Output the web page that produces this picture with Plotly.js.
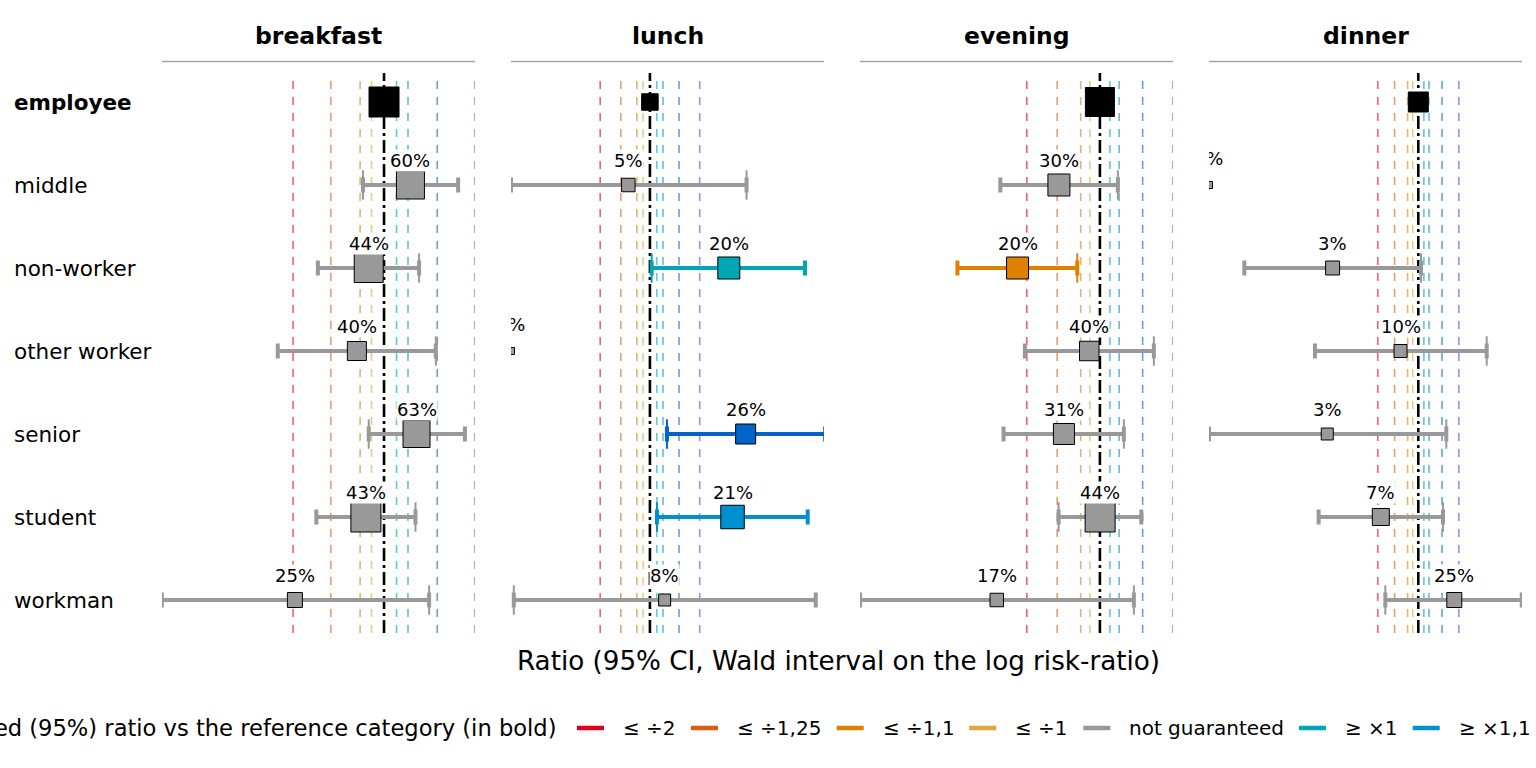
<!DOCTYPE html>
<html><head><meta charset="utf-8">
<script src="https://cdn.plot.ly/plotly-3.0.1.min.js"></script>
<style>html,body{margin:0;padding:0;background:#fff;}</style>
</head><body>
<div id="chart" style="width:1536px;height:768px"></div>
<script>
// ---------------- data ----------------
const panels = ['breakfast', 'lunch', 'evening', 'dinner'];
const categories = ['employee', 'middle', 'non-worker', 'other worker', 'senior', 'student', 'workman'];
const referenceCategory = 'employee';

const estBreakfast = [1, 1.223, 0.890, 0.813, 1.281, 0.871, 0.507];
const loBreakfast  = [null, 0.852, 0.604, 0.445, 0.890, 0.597, 0.184];
const hiBreakfast  = [null, 1.759, 1.306, 1.484, 1.852, 1.271, 1.410];
const pctBreakfast = ['', '60%', '44%', '40%', '63%', '43%', '25%'];
const nBreakfast   = [31, 29, 30, 20, 28, 31, 16];
const clsBreakfast = ['ref', 'ng', 'ng', 'ng', 'ng', 'ng', 'ng'];

const estLunch = [1, 0.740, 3.002, 0.1443, 3.795, 3.161, 1.228];
const loLunch  = [null, 0.1443, 1.024, null, 1.268, 1.103, 0.150];
const hiLunch  = [null, 3.844, 8.676, null, 11.5, 9.01, 10.08];
const pctLunch = ['', '5%', '20%', '0%', '26%', '21%', '8%'];
const nLunch   = [17.5, 14.5, 23, 8, 21, 24.5, 13];
const clsLunch = ['ref', 'ng', 'ge1', 'ng', 'ge125', 'ge11', 'ng'];

const estEvening = [1, 0.678, 0.458, 0.904, 0.711, 1.002, 0.376];
const loEvening  = [null, 0.389, 0.259, 0.491, 0.401, 0.676, 0.1028];
const hiEvening  = [null, 1.186, 0.807, 1.668, 1.255, 1.481, 1.380];
const pctEvening = ['', '30%', '20%', '40%', '31%', '44%', '17%'];
const nEvening   = [30, 23, 23, 20.5, 22, 31, 14.5];
const clsEvening = ['ref', 'ng', 'le11', 'ng', 'ng', 'ng', 'ng'];

const estDinner = [1, 0.02794, 0.231, 0.738, 0.211, 0.527, 1.850];
const loDinner  = [null, null, 0.0511, 0.171, 0.02794, 0.182, 0.569];
const hiDinner  = [null, null, 1.047, 3.220, 1.614, 1.525, 5.86];
const pctDinner = ['', '0%', '3%', '10%', '3%', '7%', '25%'];
const nDinner   = [21, 8, 15, 14, 13, 18, 16];
const clsDinner = ['ref', 'ng', 'ng', 'ng', 'ng', 'ng', 'ng'];

const xLimits = [[0.1842, 2], [0.1443, 11.31], [0.1028, 2], [0.02794, 5.886]];
const refRatios = [1/2, 1/1.5, 1/1.2, 1/1.1, 1, 1.1, 1.2, 1.5, 2];
const refClasses = ['le2', 'le125', 'le11', 'le1', 'ref', 'ge1', 'ge11', 'ge125', 'ge2'];

const legendTitle = 'Guaranteed (95%) ratio vs the reference category (in bold)';
const legendLabels = ['≤ ÷2', '≤ ÷1,25', '≤ ÷1,1', '≤ ÷1', 'not guaranteed', '≥ ×1', '≥ ×1,1'];
const legendKeys = ['le2', 'le125', 'le11', 'le1', 'ng', 'ge1', 'ge11'];
const xTitle = 'Ratio (95% CI, Wald interval on the log risk-ratio)';

// ---------------- styles ----------------
const classColors = {
  le2: '#E0001B', le125: '#E05A12', le11: '#E08000', le1: '#E0A838',
  ng: '#999999', ge1: '#00A6B4', ge11: '#0090CF', ge125: '#0064C8', ge2: '#6A3CF0', ref: '#000000'
};
const FONT = 'DejaVu Sans';
const W = 1536, H = 768;
const panelPx = [[162, 475], [511, 824], [860, 1173], [1209, 1522]];
const plotTop = 73, plotBottom = 633, rowTop = 102, rowStep = 83;
const yRange = [(plotBottom - rowTop) / rowStep, (plotTop - rowTop) / rowStep];
const legendSegPx = [577, 691, 836.7, 969.3, 1083.3, 1299, 1412.7];

const est = [estBreakfast, estLunch, estEvening, estDinner];
const lo = [loBreakfast, loLunch, loEvening, loDinner];
const hi = [hiBreakfast, hiLunch, hiEvening, hiDinner];
const pct = [pctBreakfast, pctLunch, pctEvening, pctDinner];
const nn = [nBreakfast, nLunch, nEvening, nDinner];
const cls = [clsBreakfast, clsLunch, clsEvening, clsDinner];

const traces = [];
const annotations = [];
const shapes = [];
const layout = {
  width: W, height: H, margin: {l: 0, r: 0, t: 0, b: 0},
  paper_bgcolor: '#fff', plot_bgcolor: 'rgba(0,0,0,0)', showlegend: false,
  font: {family: FONT, color: '#000'},
  yaxis: {domain: [1 - plotBottom / H, 1 - plotTop / H], range: yRange, showgrid: false,
          zeroline: false, showticklabels: false, showline: false, ticks: '', fixedrange: true},
  annotations: annotations, shapes: shapes
};

panels.forEach((p, k) => {
  const xa = k === 0 ? 'x' : 'x' + (k + 1);
  const axName = k === 0 ? 'xaxis' : 'xaxis' + (k + 1);
  layout[axName] = {
    type: 'log', domain: [panelPx[k][0] / W, panelPx[k][1] / W],
    range: [Math.log10(xLimits[k][0]), Math.log10(xLimits[k][1])],
    showgrid: false, zeroline: false, showticklabels: false, showline: false, ticks: '',
    anchor: 'y', fixedrange: true
  };
  // reference lines
  refRatios.forEach((r, j) => {
    const isOne = refClasses[j] === 'ref';
    traces.push({
      x: [r, r], y: yRange, xaxis: xa, yaxis: 'y', mode: 'lines', hoverinfo: 'skip',
      line: isOne ? {color: '#000', width: 2.6, dash: '13px,4px,3px,4px'}
                  : {color: classColors[refClasses[j]], width: 1.6, dash: '8px,8px'},
      opacity: isOne ? 1 : 0.62
    });
  });
  // rows
  categories.forEach((c, i) => {
    const e = est[k][i], l = lo[k][i], h = hi[k][i], cl = cls[k][i];
    const col = classColors[cl];
    if (l !== null && h !== null) {
      const bound = e >= 1 ? l : h;
      traces.push({
        x: [bound], y: [i], xaxis: xa, yaxis: 'y', mode: 'markers', hoverinfo: 'skip',
        marker: {symbol: 'line-ns-open', size: 21, color: col, line: {color: col, width: 2}}
      });
    }
    const t = {
      x: [e], y: [i], xaxis: xa, yaxis: 'y', mode: 'markers', hoverinfo: 'skip',
      marker: {symbol: 'square', size: nn[k][i] - 1, color: cl === 'ref' ? '#000' : col,
               line: {color: '#000', width: 1}}
    };
    if (l !== null && h !== null) {
      t.error_x = {type: 'data', symmetric: false, array: [h - e], arrayminus: [e - l],
                   color: col, thickness: 4, width: 7.5};
    }
    traces.push(t);
    // percent labels
    if (pct[k][i]) {
      const inside = e > xLimits[k][0] * 1.001 && e < xLimits[k][1] * 0.999;
      if (inside) {
        annotations.push({
          xref: xa, yref: 'y', x: Math.log10(e), y: i, yshift: 24.5, text: pct[k][i],
          showarrow: false, bgcolor: '#fff', borderpad: 0, font: {size: 18, family: FONT, color: '#000'}
        });
      } else {
        traces.push({
          x: [e], y: [i - 24.5 / rowStep], xaxis: xa, yaxis: 'y', mode: 'text', text: [pct[k][i]],
          textposition: 'middle center', cliponaxis: true, hoverinfo: 'skip',
          textfont: {size: 18, family: FONT, color: '#000'}
        });
      }
    }
  });
  // strip
  annotations.push({
    xref: 'paper', yref: 'paper', x: (panelPx[k][0] + panelPx[k][1]) / 2 / W, y: 1 - 36 / H,
    xanchor: 'center', yanchor: 'middle', showarrow: false, text: '<b>' + p + '</b>',
    font: {size: 23.5, family: FONT, color: '#000'}
  });
  shapes.push({type: 'line', xref: 'paper', yref: 'paper', x0: panelPx[k][0] / W, x1: panelPx[k][1] / W,
               y0: 1 - 61.5 / H, y1: 1 - 61.5 / H, line: {color: '#a3a3a3', width: 1.4}});
});

// category labels
categories.forEach((c, i) => {
  annotations.push({
    xref: 'paper', yref: 'y', x: 12 / W, y: i, xanchor: 'left', yanchor: 'middle', showarrow: false,
    text: c === referenceCategory ? '<b>' + c + '</b>' : c,
    font: {size: 21.5, family: FONT, color: '#000'}
  });
});

// x title
annotations.push({
  xref: 'paper', yref: 'paper', x: 838 / W, y: 1 - 661 / H, xanchor: 'center', yanchor: 'middle',
  showarrow: false, text: xTitle, font: {size: 26.2, family: FONT, color: '#000'}
});

// legend
const legY = 1 - 728 / H;
annotations.push({
  xref: 'paper', yref: 'paper', x: 559 / W, y: legY, xanchor: 'right', yanchor: 'middle',
  showarrow: false, text: legendTitle, font: {size: 22.6, family: FONT, color: '#000'}
});
legendKeys.forEach((key, j) => {
  const x0 = legendSegPx[j];
  shapes.push({type: 'line', xref: 'paper', yref: 'paper', x0: x0 / W, x1: (x0 + 27) / W,
               y0: legY, y1: legY, line: {color: classColors[key], width: 4.5}});
  annotations.push({
    xref: 'paper', yref: 'paper', x: (x0 + 44) / W, y: legY, xanchor: 'left', yanchor: 'middle',
    showarrow: false, text: legendLabels[j], font: {size: 20, family: FONT, color: '#000'}
  });
});

Plotly.newPlot('chart', traces, layout, {displayModeBar: false, staticPlot: true});
</script>
</body></html>
